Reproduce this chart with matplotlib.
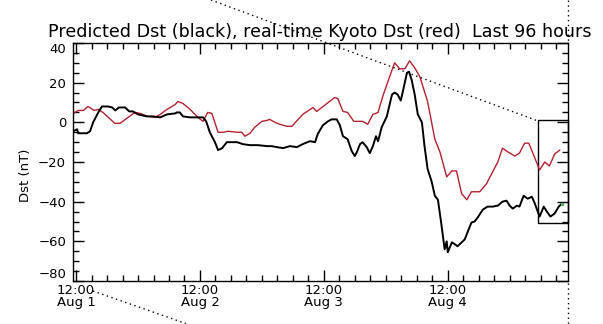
import numpy as np
import matplotlib
matplotlib.use('Agg')
import matplotlib.pyplot as plt
from matplotlib.lines import Line2D
from matplotlib.patches import Rectangle
from matplotlib.ticker import MultipleLocator, FixedLocator

# hours since 12:00 Aug 1
kyoto_hours = [-0.5, -0.2, 0.4, 1.4, 2.3, 3.5, 4.3, 5.2, 7.5, 8.5, 11.4, 12.4, 13.9,
               15.3, 16.3, 17.6, 19.2, 19.7, 20.7, 22.1, 23.6, 24.6, 25.5, 26.3,
               27.5, 28.5, 29.4, 31.2, 32.1, 32.7, 33.7, 34.6, 36.0, 37.0, 37.5,
               38.5, 39.5, 40.8, 41.8, 43.9, 45.9, 46.6, 48.6, 50.1, 50.7, 51.7,
               52.6, 53.8, 55.5, 56.5, 57.5, 58.5, 59.4, 60.4, 61.7, 62.7, 63.7,
               64.6, 65.6, 66.6, 67.2, 68.1, 69.5, 70.5, 71.8, 72.8, 73.7, 74.7,
               75.7, 76.6, 77.2, 78.2, 79.5, 80.7, 81.7, 82.6, 83.4, 85.0, 85.9,
               86.9, 87.7, 88.8, 89.8, 90.8, 91.7, 92.7, 93.7]
kyoto_dst = [4.5, 5, 6, 6, 8, 6, 6.5, 5, -0.5, -0.5, 5, 4.5, 3,
             2.5, 4, 6.5, 9, 10.5, 9.5, 6.5, 2.5, 0.5, 5, 4.5,
             -5, -5, -4.5, -5, -5, -7, -5.5, -2.5, 0.5, 1, 1.5,
             0, -1, -2, -2, 4, 7.5, 5.5, 9.5, 12.5, 12, 5.5,
             5, 0.5, 0.5, -1, 4, 5, 13, 20.5, 30, 27, 27,
             31, 27.5, 23, 18, 10.5, -8.5, -15, -27.5, -24.5, -24.5, -36,
             -39, -35, -35, -35, -31, -25, -20, -13, -14.5, -17, -15.5,
             -10.5, -10.5, -17.5, -24, -20, -22, -16, -14]

pred_hours = [-0.6, 0.2, 0.4, 2.1, 2.7, 3.3, 4.3, 5.0, 6.2, 7.0, 7.6, 8.3, 9.5,
              10.3, 11.0, 12.0, 13.7, 14.9, 16.3, 17.6, 19.2, 19.5, 20.1, 20.7,
              22.1, 24.6, 25.2, 25.9, 26.9, 27.5, 28.3, 29.2, 30.2, 31.2, 32.3,
              33.7, 35.2, 37.0, 37.9, 38.9, 40.1, 41.4, 42.8, 43.9, 45.3, 46.3,
              46.8, 47.8, 48.8, 49.5, 50.5, 51.1, 51.7, 52.6, 53.4, 54.0, 54.4,
              55.0, 55.5, 56.3, 56.9, 57.5, 58.1, 58.5, 59.2, 60.2, 61.2, 61.7,
              62.3, 62.9, 63.3, 64.1, 64.5, 65.0, 65.6, 66.2, 67.0, 67.5, 68.1,
              68.9, 69.5, 70.1, 70.8, 71.4, 71.8, 72.0, 72.8, 73.4, 73.9, 74.7,
              75.3, 75.9, 76.6, 77.2, 77.8, 78.8, 79.7, 80.7, 81.7, 82.6, 83.4,
              84.0, 84.6, 85.4, 85.9, 86.7, 87.5, 88.3, 88.8, 89.8, 90.6, 91.2,
              91.9, 92.7, 93.5, 94.1]
pred_dst = [-4.5, -3.5, -5.5, -5.5, -4.5, 0, 5, 8, 8, 7.5, 6, 7.5, 7.5,
            5.5, 5.5, 4, 3, 3, 2.5, 4, 4.5, 5, 5, 3,
            2.5, 2.5, 0.5, -5, -10, -14, -13, -10, -10, -10, -11,
            -11.5, -11.5, -12, -12, -12.5, -13, -12, -12.5, -11, -9.5, -10,
            -6, -1.5, 0.5, 1.5, 1.5, -1.5, -7, -8.5, -14.5, -17, -15,
            -11, -10, -12.5, -15.5, -12, -7, -9.5, -2.5, 3, 14, 15,
            14, 11, 15.5, 25, 25.5, 21.5, 14, 4, 0, -12, -23.5,
            -30, -37, -39, -52, -64, -60, -65.5, -60.5, -61.5, -62.5, -60.5,
            -59, -55, -50.5, -50, -48, -44, -42.5, -42.5, -42, -40, -39.5,
            -42, -43.5, -42, -42.5, -37, -38.5, -37.5, -40.5, -47.5, -42.5, -45,
            -47.5, -46, -42.5, -41]

day_ticks = [0, 24, 48, 72]
day_labels = ['12:00\nAug 1', '12:00\nAug 2', '12:00\nAug 3', '12:00\nAug 4']

plt.rcParams['font.family'] = ['DejaVu Sans']

fig = plt.figure(figsize=(6.03, 3.24), dpi=100)
W, H = 603.0, 324.0
ax = fig.add_axes([73 / W, 1 - 281 / H, 495 / W, 238 / H])

ax.plot(kyoto_hours, kyoto_dst, color='#b22230', lw=1.0)
ax.plot(pred_hours, pred_dst, color='black', lw=1.4)
ax.plot(pred_hours[-1], pred_dst[-1], 's', color='#5fae5f', ms=2)

ax.set_xlim(-0.6, 95.3)
ax.set_ylim(-80, 40)
ax.xaxis.set_major_locator(FixedLocator(day_ticks))
ax.set_xticklabels(day_labels)
ax.xaxis.set_minor_locator(MultipleLocator(3))
ax.yaxis.set_major_locator(MultipleLocator(20))
ax.yaxis.set_minor_locator(MultipleLocator(5))
ax.tick_params(which='both', direction='in', top=True, right=True, width=1, labelsize=9.5)
ax.tick_params(which='major', length=8)
ax.tick_params(which='minor', length=4)
ax.tick_params(axis='x', pad=2)
ax.tick_params(axis='y', pad=5)
for lbl in ax.get_xticklabels():
    lbl.set_linespacing(0.95)
# end labels sit inside the axis range, as in the original
ylabels = ax.get_yticklabels()
fig.canvas.draw()
for lbl in ax.get_yticklabels():
    if lbl.get_text() in ('40',):
        lbl.set_va('top')
    elif lbl.get_text() in ('\u221280', '-80'):
        lbl.set_va('bottom')
for s in ax.spines.values():
    s.set_linewidth(1)

# zoom box at the right end
ax.add_patch(Rectangle((89.4, -51), 95.3 - 89.4, 52, fill=False, lw=1,
                       ec='black', clip_on=False))

fig.text(26 / W, 1 - 175 / H, 'Dst (nT)', rotation=90, ha='center', va='center', fontsize=9.5)
fig.text(48 / W, 1 - 37 / H, 'Predicted Dst (black), real-time Kyoto Dst (red)  Last 96 hours',
         ha='left', va='baseline', fontsize=12.6)

# dotted connector lines
for (x0, y0), (x1, y1) in [((211, 0), (538, 121)), ((93, 291), (190, 325)),
                           ((568, 0), (568, 43)), ((568, 283), (568, 324))]:
    fig.add_artist(Line2D([x0 / W, x1 / W], [1 - y0 / H, 1 - y1 / H],
                          transform=fig.transFigure, color='black', lw=1,
                          linestyle=(0, (1, 2.5))))

fig.savefig('out.png', dpi=100)
